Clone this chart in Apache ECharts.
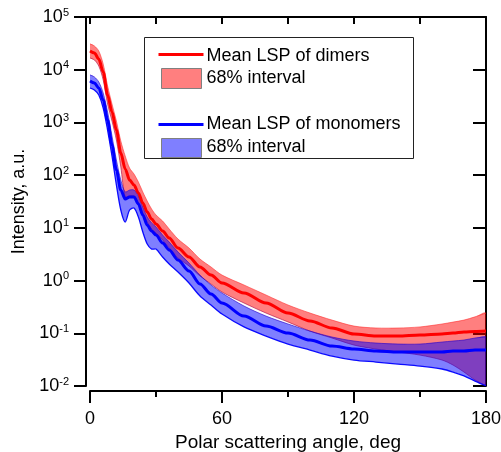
<!DOCTYPE html>
<html>
<head>
<meta charset="utf-8">
<title>Mean LSP of dimers and monomers</title>
<script src="https://cdn.jsdelivr.net/npm/echarts@6/dist/echarts.min.js"></script>
<style>
  html, body { margin: 0; padding: 0; background: #fff; }
  #chart { width: 501px; height: 452px; }
</style>
</head>
<body>
<div id="chart"></div>
<script>
// Polar scattering angle, degrees
const angles = [0, 2, 4, 6, 8, 10, 12, 14, 16, 18, 20, 22, 24, 26, 28, 30, 33, 36, 40, 45,
  50, 55, 60, 70, 80, 90, 100, 110, 120, 130, 140, 150, 160, 165, 170, 175, 180];

// Dimers: mean light-scattering pattern and its 68% interval
const dimerMean = [22600, 20700, 16000, 9050, 3310, 1580, 718, 263, 131, 80.9, 65.0, 45.8, 29.6, 20.0, 14.7, 11.8, 8.71, 6.41, 4.14, 2.80,
  1.81, 1.27, 0.898, 0.581, 0.375, 0.242, 0.171, 0.126, 0.0969, 0.0887, 0.0887, 0.0927, 0.0969, 0.101, 0.106, 0.108, 0.110];
const dimerHigh = [30800, 28200, 22600, 12800, 4910, 2230, 1060, 444, 231, 136, 105, 74.1, 47.9, 32.3, 22.8, 17.5, 13.5, 9.51, 6.14, 4.14,
  2.56, 1.81, 1.27, 0.824, 0.532, 0.344, 0.242, 0.178, 0.137, 0.126, 0.126, 0.132, 0.150, 0.163, 0.178, 0.205, 0.242];
const dimerLow = [16700, 15300, 11700, 6380, 2230, 1060, 464, 143, 38.5, 40.2, 40.2, 29.6, 19.1, 12.9, 9.51, 7.98, 5.87, 4.14, 2.68, 1.89,
  1.22, 0.861, 0.607, 0.375, 0.242, 0.164, 0.110, 0.0813, 0.0598, 0.0502, 0.0441, 0.0386, 0.0311, 0.0250, 0.0184, 0.0130, 0.0101];

// Monomers: mean light-scattering pattern and its 68% interval
const monomerMean = [6110, 5600, 4500, 2660, 1110, 373, 125, 52.2, 35.2, 38.5, 38.5, 28.3, 17.5, 11.3, 8.71, 7.31, 5.15, 3.80, 2.45, 1.52,
  0.861, 0.556, 0.375, 0.212, 0.137, 0.101, 0.0745, 0.0573, 0.0502, 0.0461, 0.0441, 0.0441, 0.0441, 0.0461, 0.0461, 0.0481, 0.0481];
const monomerHigh = [7940, 7280, 5850, 3610, 1580, 552, 194, 80.9, 47.9, 52.2, 52.2, 40.2, 24.8, 16.1, 12.4, 10.4, 7.31, 5.38, 3.48, 2.15,
  1.27, 0.824, 0.581, 0.329, 0.212, 0.150, 0.110, 0.0849, 0.0713, 0.0653, 0.0625, 0.0625, 0.0682, 0.0713, 0.0745, 0.0813, 0.0849];
const monomerLow = [4500, 4120, 3310, 1880, 718, 231, 65.0, 21.8, 12.9, 21.8, 23.8, 16.1, 8.34, 4.93, 3.96, 3.96, 2.80, 2.06, 1.45, 0.898,
  0.509, 0.344, 0.232, 0.132, 0.0887, 0.0625, 0.0481, 0.0370, 0.0311, 0.0285, 0.0261, 0.0239, 0.0210, 0.0184, 0.0155, 0.0124, 0.0101];

// Axis ranges and legend labels
const angleTicks = { min: 0, max: 180, labelStep: 60, tickStep: 30 };
const intensityRange = { min: 0.01, max: 100000 };
const legendLabels = ['Mean LSP of dimers', '68% interval', 'Mean LSP of monomers', '68% interval'];

const FONT = "'Liberation Sans', Arial, Helvetica, sans-serif";
const SMOOTH = 0.3;

const pairs = (vals) => angles.map((a, i) => [a, vals[i]]);

// Filled band between a lower and an upper curve, placed through the axis scales
function bandSeries(name, lo, hi, fill, loEdge, hiEdge, z) {
  return {
    type: 'custom',
    name: name,
    z: z,
    silent: true,
    xAxisIndex: 0,
    yAxisIndex: 0,
    data: [[angles[0], lo[0]]],
    encode: { x: 0, y: 1 },
    renderItem: function (params, api) {
      const upper = angles.map((a, i) => api.coord([a, hi[i]]));
      const lower = angles.map((a, i) => api.coord([a, lo[i]]));
      const outline = upper.concat(lower.slice().reverse());
      // keep the bezier control points inside the plotting area
      const c1 = api.coord([angleTicks.min, intensityRange.max]);
      const c2 = api.coord([angleTicks.max, intensityRange.min]);
      const box = [[Math.min(c1[0], c2[0]), Math.min(c1[1], c2[1])], [Math.max(c1[0], c2[0]), Math.max(c1[1], c2[1])]];
      return {
        type: 'group',
        children: [
          { type: 'polygon', shape: { points: outline, smooth: SMOOTH, smoothConstraint: box },
            style: { fill: fill, stroke: null } },
          { type: 'polyline', shape: { points: lower, smooth: SMOOTH, smoothConstraint: box },
            style: { fill: null, stroke: loEdge.color, lineWidth: loEdge.width } },
          { type: 'polyline', shape: { points: upper, smooth: SMOOTH, smoothConstraint: box },
            style: { fill: null, stroke: hiEdge.color, lineWidth: hiEdge.width } }
        ]
      };
    }
  };
}

function meanSeries(name, vals, color, z) {
  return {
    type: 'line',
    name: name,
    z: z,
    silent: true,
    symbol: 'none',
    smooth: SMOOTH,
    smoothMonotone: 'x',
    xAxisIndex: 0,
    yAxisIndex: 0,
    data: pairs(vals),
    lineStyle: { width: 3, color: color }
  };
}

const chart = echarts.init(document.getElementById('chart'), null, { renderer: 'canvas' });

chart.setOption({
  animation: false,
  backgroundColor: '#ffffff',
  grid: { left: 90, right: 15, top: 17, bottom: 66, containLabel: false, outerBoundsMode: 'none' },
  xAxis: [
    {
      type: 'value',
      position: 'bottom',
      offset: 5,
      min: angleTicks.min,
      max: angleTicks.max,
      interval: angleTicks.labelStep,
      axisLine: { onZero: false, lineStyle: { color: '#000', width: 2 } },
      axisTick: { show: true, length: 12, lineStyle: { color: '#000', width: 2 } },
      minorTick: { show: true, splitNumber: 2, length: 6, lineStyle: { color: '#000', width: 2 } },
      splitLine: { show: false },
      axisLabel: { color: '#000', fontSize: 18, fontFamily: FONT, margin: 19 },
      name: 'Polar scattering angle, deg',
      nameLocation: 'middle',
      nameGap: 34,
      nameTextStyle: { color: '#000', fontSize: 19, fontFamily: FONT }
    },
    {
      type: 'value',
      position: 'top',
      min: angleTicks.min,
      max: angleTicks.max,
      interval: angleTicks.tickStep,
      axisLine: { onZero: false, lineStyle: { color: '#000', width: 2 } },
      axisTick: { show: true, inside: true, length: 7, lineStyle: { color: '#000', width: 2 } },
      splitLine: { show: false },
      axisLabel: { show: false }
    }
  ],
  yAxis: [
    {
      type: 'log',
      logBase: 10,
      position: 'left',
      offset: 4,
      min: intensityRange.min,
      max: intensityRange.max,
      interval: 1,
      axisLine: { onZero: false, lineStyle: { color: '#000', width: 2 } },
      axisTick: { show: true, length: 12, lineStyle: { color: '#000', width: 2 } },
      splitLine: { show: false },
      axisLabel: {
        margin: 17,
        formatter: (v) => '{b|10}{s|' + Math.round(Math.log10(v)) + '}',
        rich: {
          b: { fontSize: 18, lineHeight: 20, color: '#000', fontFamily: FONT },
          s: { fontSize: 11, lineHeight: 11, verticalAlign: 'top', color: '#000', fontFamily: FONT }
        }
      },
      name: 'Intensity, a.u.',
      nameLocation: 'middle',
      nameRotate: 90,
      nameGap: 58,
      nameTextStyle: { color: '#000', fontSize: 18, fontFamily: FONT }
    },
    {
      type: 'log',
      logBase: 10,
      position: 'right',
      min: intensityRange.min,
      max: intensityRange.max,
      interval: 1,
      axisLine: { onZero: false, lineStyle: { color: '#000', width: 2 } },
      axisTick: { show: true, inside: true, length: 13, lineStyle: { color: '#000', width: 2 } },
      splitLine: { show: false },
      axisLabel: { show: false }
    }
  ],
  series: [
    bandSeries('dimer interval', dimerLow, dimerHigh, 'rgba(255,0,0,0.5)',
      { color: 'rgba(170,0,60,0.6)', width: 1 }, { color: 'rgba(255,40,40,0.55)', width: 1 }, 2),
    bandSeries('monomer interval', monomerLow, monomerHigh, 'rgba(0,0,255,0.5)',
      { color: 'rgba(0,0,255,0.95)', width: 1.3 }, { color: 'rgba(40,0,200,0.6)', width: 1 }, 3),
    meanSeries(legendLabels[2], monomerMean, '#0000ff', 4),
    meanSeries(legendLabels[0], dimerMean, '#ff0000', 5)
  ],
  graphic: [
    // close the frame corner between the offset left axis and the top axis
    { type: 'line', shape: { x1: 85, y1: 17, x2: 91, y2: 17 }, style: { stroke: '#000', lineWidth: 2 }, silent: true },
    // legend
    {
      type: 'group', left: 144, top: 37, silent: true, z: 100,
      children: [
        { type: 'rect', shape: { x: 0, y: 0, width: 269, height: 121 }, style: { fill: '#fff', stroke: '#222', lineWidth: 1 } },
        { type: 'line', shape: { x1: 14, y1: 17, x2: 59, y2: 17 }, style: { stroke: '#ff0000', lineWidth: 3 } },
        { type: 'text', x: 62, y: 18.5, style: { text: legendLabels[0], fontSize: 18, fontFamily: FONT, fill: '#000', verticalAlign: 'middle' } },
        { type: 'rect', shape: { x: 17, y: 31, width: 40, height: 20 }, style: { fill: 'rgba(255,0,0,0.5)', stroke: '#808080', lineWidth: 1 } },
        { type: 'text', x: 62, y: 40.7, style: { text: legendLabels[1], fontSize: 18, fontFamily: FONT, fill: '#000', verticalAlign: 'middle' } },
        { type: 'line', shape: { x1: 14, y1: 87, x2: 59, y2: 87 }, style: { stroke: '#0000ff', lineWidth: 3 } },
        { type: 'text', x: 62, y: 86.4, style: { text: legendLabels[2], fontSize: 18, fontFamily: FONT, fill: '#000', verticalAlign: 'middle' } },
        { type: 'rect', shape: { x: 17, y: 101, width: 40, height: 19 }, style: { fill: 'rgba(0,0,255,0.5)', stroke: '#808080', lineWidth: 1 } },
        { type: 'text', x: 62, y: 109.7, style: { text: legendLabels[3], fontSize: 18, fontFamily: FONT, fill: '#000', verticalAlign: 'middle' } }
      ]
    }
  ]
});
</script>
</body>
</html>
